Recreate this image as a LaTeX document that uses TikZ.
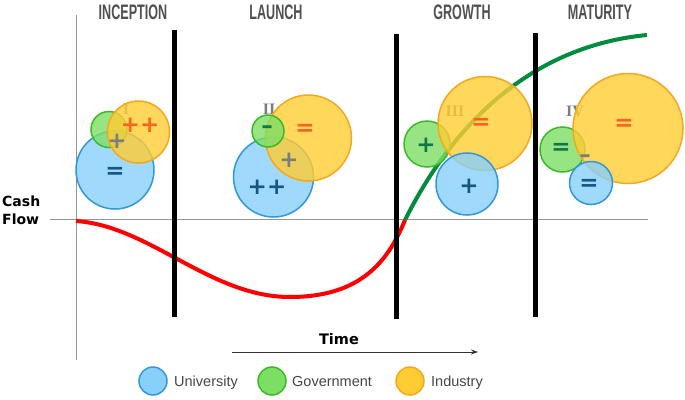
\documentclass[tikz,border=0pt]{standalone}
\usepackage{fontspec}
\setmainfont{Liberation Sans}
\newfontfamily\titlefont[FakeStretch=0.6]{Liberation Sans}
\newfontfamily\dvfont{DejaVu Sans}
\newfontfamily\numfont{Liberation Serif}
\usetikzlibrary{arrows.meta}
\definecolor{ufill}{RGB}{135,208,250}
\definecolor{ustroke}{RGB}{52,150,220}
\definecolor{gfill}{RGB}{125,222,100}
\definecolor{gstroke}{RGB}{60,185,40}
\definecolor{yfill}{RGB}{255,205,50}
\definecolor{ystroke}{RGB}{245,168,30}
\definecolor{oink}{RGB}{250,100,30}
\definecolor{bink}{RGB}{25,85,130}
\definecolor{gink}{RGB}{15,120,70}
\definecolor{grayink}{RGB}{125,125,125}
\definecolor{titlegray}{RGB}{80,80,80}
\definecolor{axisgray}{RGB}{150,150,150}
\definecolor{redc}{RGB}{255,0,0}
\definecolor{greenc}{RGB}{0,140,60}
\tikzset{
  ucirc/.style={circle, inner sep=0pt, draw=ustroke, fill=ufill, fill opacity=0.8, line width=1.5pt},
  gcirc/.style={circle, inner sep=0pt, draw=gstroke, fill=gfill, fill opacity=0.8, line width=1.5pt},
  ycirc/.style={circle, inner sep=0pt, draw=ystroke, fill=yfill, fill opacity=0.8, line width=1.5pt},
  sym/.style={inner sep=0pt, font=\dvfont\bfseries\fontsize{23}{23}\selectfont},
  numl/.style={inner sep=0pt, text=grayink, font=\numfont\bfseries\fontsize{16}{16}\selectfont},
  ttl/.style={inner sep=0pt, text=titlegray, font=\titlefont\bfseries\fontsize{21}{21}\selectfont},
  axislabel/.style={inner sep=0pt, anchor=base west, font=\dvfont\bfseries\fontsize{14}{14}\selectfont},
  legtext/.style={inner sep=0pt, anchor=base west, text=black!72, font=\fontsize{14.5}{14.5}\selectfont},
  phasebar/.style={line width=5pt, black},
  axisline/.style={axisgray, line width=1pt},
}
\begin{document}
\begin{tikzpicture}[x=1pt,y=-1pt]
\useasboundingbox[fill=white] (0,0) rectangle (685,399);

% axes
\coordinate (vtop) at (76,15);
\coordinate (vbot) at (76,360);
\coordinate (hl) at (50,219);
\coordinate (hr) at (648,219);
\draw[axisline] (vtop) -- (vbot);
\draw[axisline] (hl) -- (hr);

% titles
\node[ttl] (t1) at (133,12) {INCEPTION};
\node[ttl] (t2) at (276,12) {LAUNCH};
\node[ttl] (t3) at (462,12) {GROWTH};
\node[ttl] (t4) at (600,12) {MATURITY};

% cash flow label
\node[axislabel] (cf1) at (2,206) {Cash};
\node[axislabel] (cf2) at (2,224) {Flow};

% curves
\coordinate (r0) at (76,221);
\coordinate (r1) at (290,297);
\coordinate (r2) at (405,220);
\coordinate (g1) at (647,35);
\draw[redc, line width=4pt] (r0) .. controls (150,226) and (210,297) .. (r1)
   .. controls (360,297) and (388,262) .. (r2);
\draw[greenc, line width=4pt] (r2) .. controls (440,150) and (512,48) .. (g1);

% phase bars
\coordinate (b1t) at (174,30);  \coordinate (b1b) at (174,317);
\coordinate (b2t) at (396,34);  \coordinate (b2b) at (396,319);
\coordinate (b3t) at (535,33);  \coordinate (b3b) at (535,317);
\draw[phasebar] (b1t) -- (b1b);
\draw[phasebar] (b2t) -- (b2b);
\draw[phasebar] (b3t) -- (b3b);

% roman numerals
\node[numl] (n1) at (126,109) {I};
\node[numl] (n2) at (269,109) {II};
\node[numl] (n3) at (455,111) {III};
\node[numl] (n4) at (575,111) {IV};

% phase I circles
\node[ucirc, minimum size=78pt] (u1) at (115,170) {};
\node[gcirc, minimum size=36pt] (g1c) at (109,129.5) {};
\node[ycirc, minimum size=62pt] (y1) at (138.5,132) {};
% phase II
\node[ucirc, minimum size=80pt] (u2) at (273.5,177) {};
\node[ycirc, minimum size=86pt] (y2) at (308.5,138) {};
\node[gcirc, minimum size=32pt] (g2c) at (268,131) {};
% phase III
\node[gcirc, minimum size=46pt] (g3c) at (427,144) {};
\node[ycirc, minimum size=94pt] (y3) at (485,123.5) {};
\node[ucirc, minimum size=62pt] (u3) at (467,184) {};
% phase IV
\node[gcirc, minimum size=45pt] (g4c) at (562.5,149.5) {};
\node[ycirc, minimum size=110pt] (y4) at (628,128.5) {};
\node[ucirc, minimum size=43pt] (u4) at (591,183) {};

% symbols phase I
\node[sym, text=bink] (s1a) at (115,173) {=};
\node[sym, text=oink] (s1b) at (140,125) {++};
\node[sym, text=grayink] (s1c) at (117,141) {+};
% phase II
\node[sym, text=gink] (s2a) at (267,130) {–};
\node[sym, text=oink] (s2b) at (305,130) {=};
\node[sym, text=grayink] (s2c) at (289,160) {+};
\node[sym, text=bink] (s2d) at (267,187) {++};
% phase III
\node[sym, text=gink] (s3a) at (426,145) {+};
\node[sym, text=oink] (s3b) at (481,124) {=};
\node[sym, text=bink] (s3c) at (469,186) {+};
% phase IV
\node[sym, text=gink] (s4a) at (561,149) {=};
\node[sym, text=oink] (s4b) at (624,125) {=};
\node[sym, text=bink] (s4c) at (589,185) {=};
\node[sym, text=grayink] (s4d) at (585,159) {–};

% time arrow
\node[inner sep=0pt, anchor=base, font=\dvfont\bfseries\fontsize{14.5}{14.5}\selectfont] (time) at (339,344) {Time};
\coordinate (ts) at (232,352);
\coordinate (te) at (478,352);
\draw[black!80, line width=1pt, -{Stealth[length=7pt,width=5pt]}] (ts) -- (te);

% legend
\node[ucirc, fill opacity=1, minimum size=28pt] (lu) at (153,381) {};
\node[legtext] (lut) at (174,386.5) {University};
\node[gcirc, fill opacity=1, minimum size=28pt] (lg) at (272,381) {};
\node[legtext] (lgt) at (292,386.5) {Government};
\node[ycirc, fill opacity=1, minimum size=28pt] (ly) at (410,381) {};
\node[legtext] (lyt) at (431,386.5) {Industry};
\end{tikzpicture}
\end{document}
